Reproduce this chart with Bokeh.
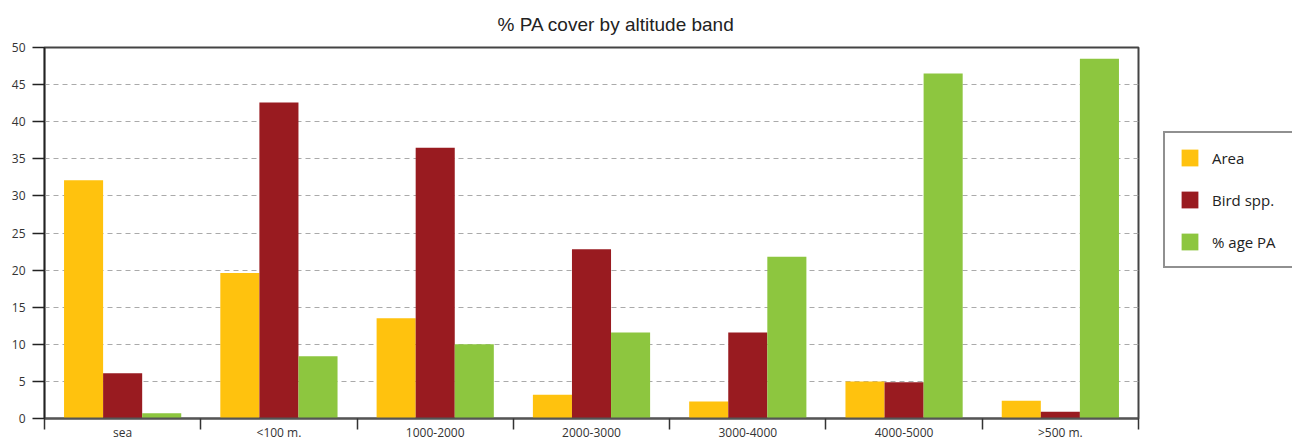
from bokeh.plotting import figure
from bokeh.models import (ColumnDataSource, FixedTicker, Legend, LegendItem, Range1d)
from bokeh.transform import dodge
from bokeh.embed import file_html
from bokeh.resources import INLINE

categories = ["sea", "<100 m.", "1000-2000", "2000-3000", "3000-4000", "4000-5000", ">500 m."]
area = [32.1, 19.6, 13.5, 3.2, 2.3, 5.0, 2.4]
bird_spp = [6.1, 42.6, 36.5, 22.8, 11.6, 4.9, 0.9]
pct_pa = [0.7, 8.4, 10.0, 11.6, 21.8, 46.5, 48.5]
series_names = ["Area", "Bird spp.", "% age PA"]
series_colors = ["#FFC20E", "#991B20", "#8DC63F"]
y_ticks = [0, 5, 10, 15, 20, 25, 30, 35, 40, 45, 50]

idx = list(range(len(categories)))
src = ColumnDataSource(dict(x=idx, area=area, bird=bird_spp, pa=pct_pa))

p = figure(frame_width=1094, frame_height=371, output_backend="svg", toolbar_location=None,
           x_range=Range1d(-0.5, len(categories) - 0.5), y_range=Range1d(0, 50),
           min_border_left=44, min_border_top=47, min_border_right=154, min_border_bottom=21)

p.title.text = "% PA cover by altitude band"
p.title.text_font = "Liberation Sans"
p.title.text_font_size = "19px"
p.title.text_font_style = "normal"
p.title.text_color = "#222222"
p.title.align = "left"
p.title.offset = 453
p.title.standoff = 24
p.title.vertical_align = "middle"

w = 0.25
r1 = p.vbar(x=dodge("x", -w, range=p.x_range), top="area", width=w, source=src,
            fill_color=series_colors[0], line_color=None)
r2 = p.vbar(x=dodge("x", 0, range=p.x_range), top="bird", width=w, source=src,
            fill_color=series_colors[1], line_color=None)
r3 = p.vbar(x=dodge("x", w, range=p.x_range), top="pa", width=w, source=src,
            fill_color=series_colors[2], line_color=None)

# x axis: labels at centres, ticks at category boundaries
xa = p.xaxis[0]
xa.ticker = FixedTicker(ticks=idx, minor_ticks=[i - 0.5 for i in range(len(categories) + 1)])
xa.major_label_overrides = {i: c for i, c in enumerate(categories)}
xa.major_tick_out = 0
xa.major_tick_in = 0
xa.minor_tick_out = 11
xa.minor_tick_in = 0
xa.minor_tick_line_color = "#333333"
xa.minor_tick_line_width = 1.5
xa.major_label_standoff = -6
xa.major_label_text_font = "Open Sans"
xa.major_label_text_font_size = "12px"
xa.major_label_text_color = "#333333"
xa.axis_line_color = "#555555"
xa.axis_line_width = 2

ya = p.yaxis[0]
ya.ticker = FixedTicker(ticks=y_ticks)
ya.major_tick_out = 12
ya.major_tick_in = 0
ya.minor_tick_out = 0
ya.minor_tick_in = 0
ya.major_tick_line_color = "#222222"
ya.major_tick_line_width = 1.5
ya.axis_line_color = "#222222"
ya.axis_line_width = 1.5
ya.major_label_standoff = 7
ya.major_label_text_font = "Open Sans"
ya.major_label_text_font_size = "12px"
ya.major_label_text_color = "#333333"

p.xgrid.visible = False
p.ygrid.ticker = FixedTicker(ticks=y_ticks[1:-1])
p.ygrid.grid_line_color = "#AAAAAA"
p.ygrid.grid_line_dash = "5 4"
p.ygrid.grid_line_width = 1

p.outline_line_color = "#444444"
p.outline_line_width = 2
p.background_fill_color = "white"
p.border_fill_color = "white"

legend = Legend(items=[LegendItem(label=series_names[0], renderers=[r1]),
                       LegendItem(label=series_names[1], renderers=[r2]),
                       LegendItem(label=series_names[2], renderers=[r3])],
                location=(25, 150))
legend.margin = 0
legend.padding = 14
legend.spacing = 21
legend.glyph_width = 21
legend.glyph_height = 21
legend.label_height = 21
legend.label_width = 66
legend.label_standoff = 12
legend.label_text_font = "Open Sans"
legend.label_text_font_size = "15px"
legend.label_text_color = "#222222"
legend.border_line_color = "#222222"
legend.border_line_width = 2
legend.background_fill_alpha = 1
p.add_layout(legend, "right")

open("out.html", "w").write(file_html(p, INLINE))
